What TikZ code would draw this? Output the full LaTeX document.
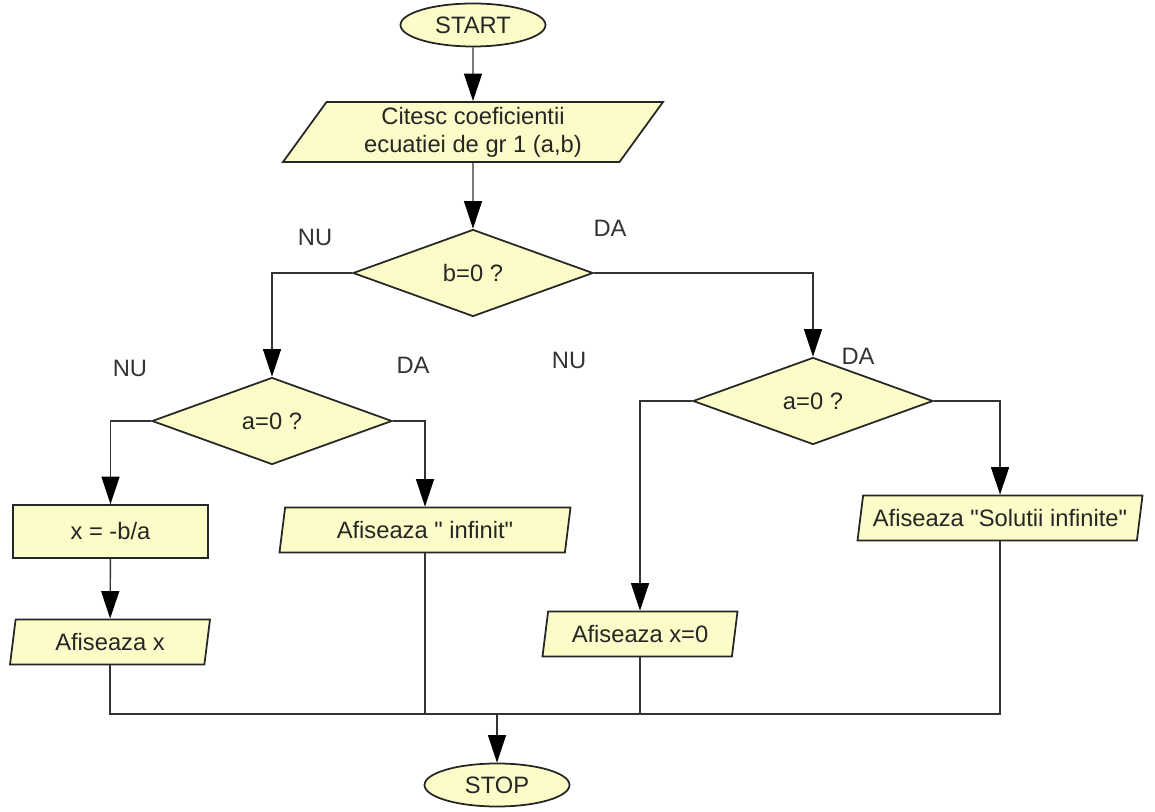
\documentclass[tikz,border=0pt]{standalone}
\usepackage{fontspec}
\setmainfont{Liberation Sans}[Ligatures=TeXOff]
\usetikzlibrary{shapes.geometric, arrows.meta}

\definecolor{boxfill}{RGB}{252,252,200}

\begin{document}
\begin{tikzpicture}[
        font=\fontsize{13.5}{16}\selectfont,
        box/.style={draw=black!85, line width=1pt, fill=boxfill, text=black!85, inner sep=1pt},
        terminal/.style={box, ellipse, minimum width=2.9cm, minimum height=0.86cm},
        decision/.style={box, diamond, minimum width=4.8cm, minimum height=1.74cm},
        process/.style={box, rectangle, minimum width=3.9cm, minimum height=1.06cm},
        io/.style={box, trapezium, trapezium left angle=75, trapezium right angle=105,
            trapezium stretches body, minimum height=0.9cm},
        flow/.style={draw=black!80, line width=0.8pt},
        arr/.style={flow, -{Triangle[length=0.55cm, width=0.36cm, color=black]}},
        answer/.style={text=black!80}
    ]
        \useasboundingbox (0, 0) rectangle (23.1, 16.22);

        \node[terminal] (start) at (9.46, 15.72) {START};
        \node[io, trapezium left angle=51, trapezium right angle=129, minimum width=7.6cm,
            minimum height=1.2cm, align=center] (citesc) at (9.46, 13.58)
            {Citesc coeficientii\\ecuatiei de gr 1 (a,b)};
        \node[decision] (b0) at (9.46, 10.76) {b=0 ?};

        % left branch: b is not 0
        \node[decision] (a0l) at (5.44, 7.8) {a=0 ?};
        \node[process] (xb) at (2.21, 5.59) {x = -b/a};
        \node[io, minimum width=4.0cm] (afx) at (2.2, 3.38) {Afiseaza x};
        \node[io, minimum width=5.82cm] (inf) at (8.5, 5.62) {Afiseaza " infinit"};

        % right branch: b is 0
        \node[decision] (a0r) at (16.26, 8.2) {a=0 ?};
        \node[io, minimum width=3.9cm] (x0) at (12.8, 3.54) {Afiseaza x=0};
        \node[io, minimum width=5.7cm] (sol) at (20.0, 5.86) {Afiseaza "Solutii infinite"};

        \node[terminal] (stop) at (9.94, 0.52) {STOP};
        \coordinate (merge) at (9.94, 1.94);

        % answers of the tests
        \node[answer] (nub) at (6.3, 11.48) {NU};
        \node[answer] (dab) at (12.2, 11.66) {DA};
        \node[answer] (nul) at (2.6, 8.86) {NU};
        \node[answer] (dal) at (8.26, 8.92) {DA};
        \node[answer] (nur) at (11.38, 9.02) {NU};
        \node[answer] (dar) at (17.16, 9.1) {DA};

        \draw[arr] (start) -- (citesc);
        \draw[arr] (citesc) -- (b0);
        \draw[arr] (b0.west) -| (a0l.north);
        \draw[arr] (b0.east) -| (a0r.north);
        \draw[arr] (a0l.west) -| (xb.north);
        \draw[arr] (a0l.east) -| (inf.north);
        \draw[arr] (xb) -- (afx);
        \draw[arr] (a0r.west) -| (x0.north);
        \draw[arr] (a0r.east) -| (sol.north);

        % everything joins before STOP
        \draw[flow] (afx.south) |- (merge);
        \draw[flow] (sol.south) |- (merge);
        \draw[flow] (inf.south) -- (inf.south |- merge);
        \draw[flow] (x0.south) -- (x0.south |- merge);
        \draw[arr] (merge) -- (stop);
    \end{tikzpicture}
\end{document}
